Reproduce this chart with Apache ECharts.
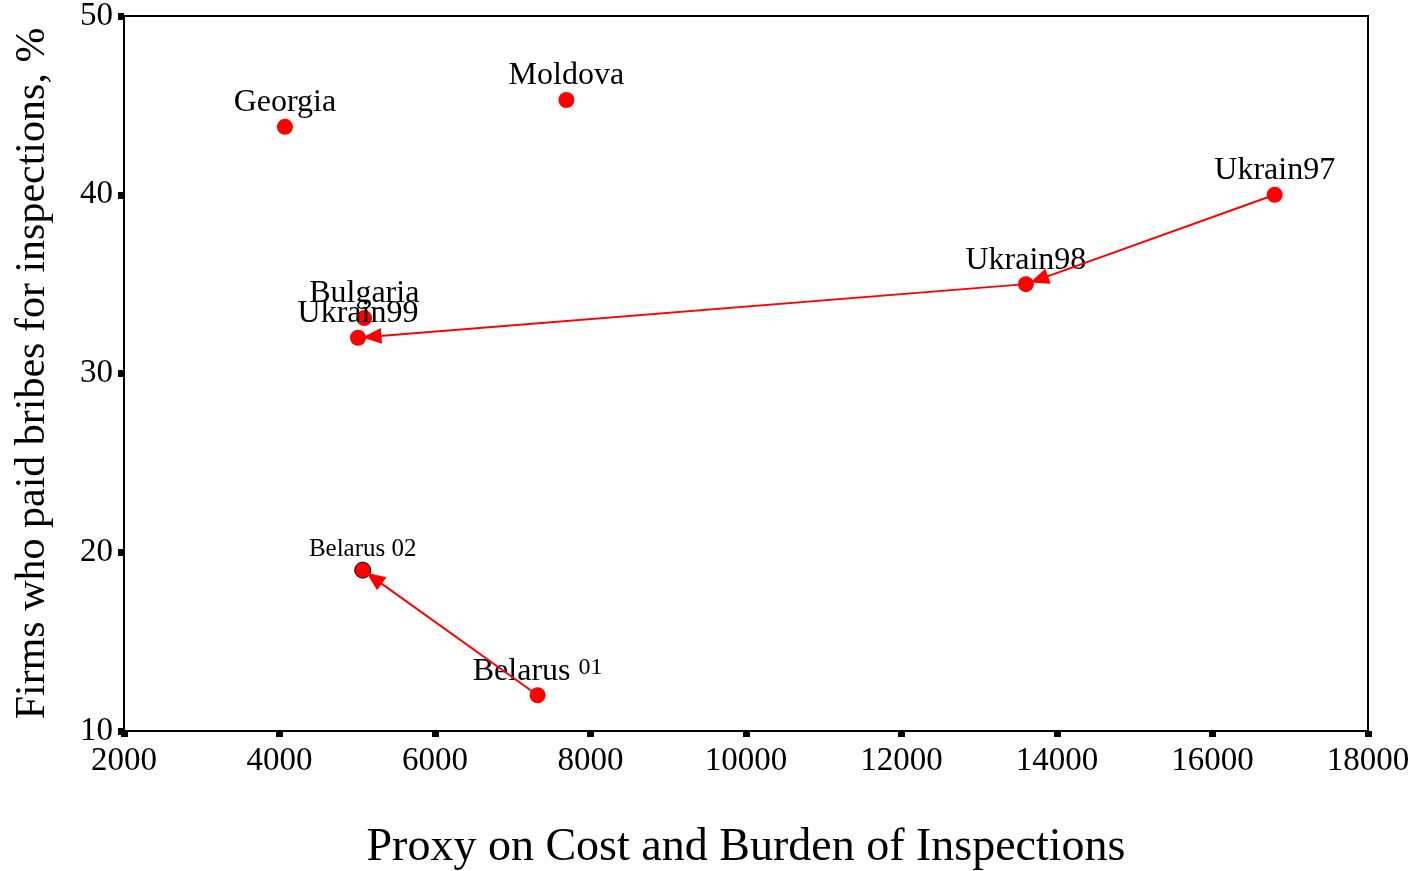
<!DOCTYPE html>
<html>
<head>
<meta charset="utf-8">
<title>Inspections scatter</title>
<script src="https://cdn.jsdelivr.net/npm/echarts@6/dist/echarts.min.js"></script>
<style>
  html, body { margin: 0; padding: 0; background: #fff; }
  #chart { width: 1418px; height: 871px; }
</style>
</head>
<body>
<div id="chart"></div>
<script>
// country / year points
const names = ['Georgia', 'Moldova', 'Ukrain97', 'Ukrain98', 'Bulgaria', 'Ukrain99', 'Belarus 02', 'Belarus 01']
const costProxy = [4070, 7690, 16800, 13600, 5090, 5010, 5070, 7320]
const bribeShare = [43.8, 45.3, 40, 35, 33.1, 32, 19, 12]

// arrows: from -> to (by name)
const arrowFrom = ['Ukrain97', 'Ukrain98', 'Belarus 01']
const arrowTo = ['Ukrain98', 'Ukrain99', 'Belarus 02']

const xTicks = { min: 2000, max: 18000, interval: 2000 }
const yTicks = { min: 10, max: 50, interval: 10 }

const serif = 'Liberation Serif, Times New Roman, serif'

const pointOf = name => {
  const i = names.indexOf(name)
  return [costProxy[i], bribeShare[i]]
}

const scatterData = names.map((n, i) => {
  const item = { name: n, value: [costProxy[i], bribeShare[i]] }
  if (n === 'Belarus 02') {
    item.itemStyle = { borderColor: '#000', borderWidth: 1 }
    item.label = { fontSize: 25 }
  }
  if (n === 'Belarus 01') {
    item.label = {
      formatter: '{a|Belarus} {b|01}',
      rich: {
        a: { fontSize: 32, fontFamily: serif, color: '#000' },
        b: { fontSize: 24, fontFamily: serif, color: '#000', verticalAlign: 'top' }
      }
    }
  }
  return item
})

// arrows as markLine pairs so the head can sit back from the target point
const arrowData = arrowFrom.map((f, i) => [{ coord: pointOf(f) }, { coord: pointOf(arrowTo[i]) }])

const chart = echarts.init(document.getElementById('chart'))
chart.setOption({
  animation: false,
  grid: {
    left: 124,
    right: 50,
    top: 16,
    bottom: 140,
    outerBoundsMode: 'none',
    containLabel: false,
    show: true,
    borderColor: '#000',
    borderWidth: 2
  },
  xAxis: {
    type: 'value',
    min: xTicks.min,
    max: xTicks.max,
    interval: xTicks.interval,
    name: 'Proxy on Cost and Burden of Inspections',
    nameLocation: 'middle',
    nameGap: 94,
    nameTextStyle: { fontFamily: serif, fontSize: 46, color: '#000' },
    axisLine: { lineStyle: { color: '#000', width: 2 } },
    axisTick: { length: 6, lineStyle: { color: '#000', width: 7 } },
    axisLabel: { margin: 14, fontFamily: serif, fontSize: 33, color: '#000', formatter: v => String(v) },
    splitLine: { show: false }
  },
  yAxis: {
    type: 'value',
    min: yTicks.min,
    max: yTicks.max,
    interval: yTicks.interval,
    name: 'Firms who paid bribes for inspections, %',
    nameLocation: 'middle',
    nameGap: 70,
    nameRotate: 90,
    nameTextStyle: { fontFamily: serif, fontSize: 42, color: '#000' },
    axisLine: { lineStyle: { color: '#000', width: 2 } },
    axisTick: { length: 6, lineStyle: { color: '#000', width: 7 } },
    axisLabel: { margin: 11, fontFamily: serif, fontSize: 33, color: '#000', formatter: v => String(v) },
    splitLine: { show: false }
  },
  series: [
    {
      type: 'scatter',
      data: scatterData,
      symbolSize: 16,
      itemStyle: { color: '#ff0000', opacity: 1 },
      label: {
        show: true,
        position: 'top',
        distance: 0,
        formatter: '{b}',
        fontFamily: serif,
        fontSize: 32,
        color: '#000'
      },
      labelLayout: { hideOverlap: false },
      markLine: {
        silent: true,
        animation: false,
        symbol: ['none', 'triangle'],
        symbolSize: [16, 19],
        symbolOffset: [0, [0, 14]],
        label: { show: false },
        lineStyle: { color: '#ff0000', width: 2, type: 'solid', opacity: 1 },
        emphasis: { disabled: true },
        data: arrowData
      }
    }
  ]
})
</script>
</body>
</html>
